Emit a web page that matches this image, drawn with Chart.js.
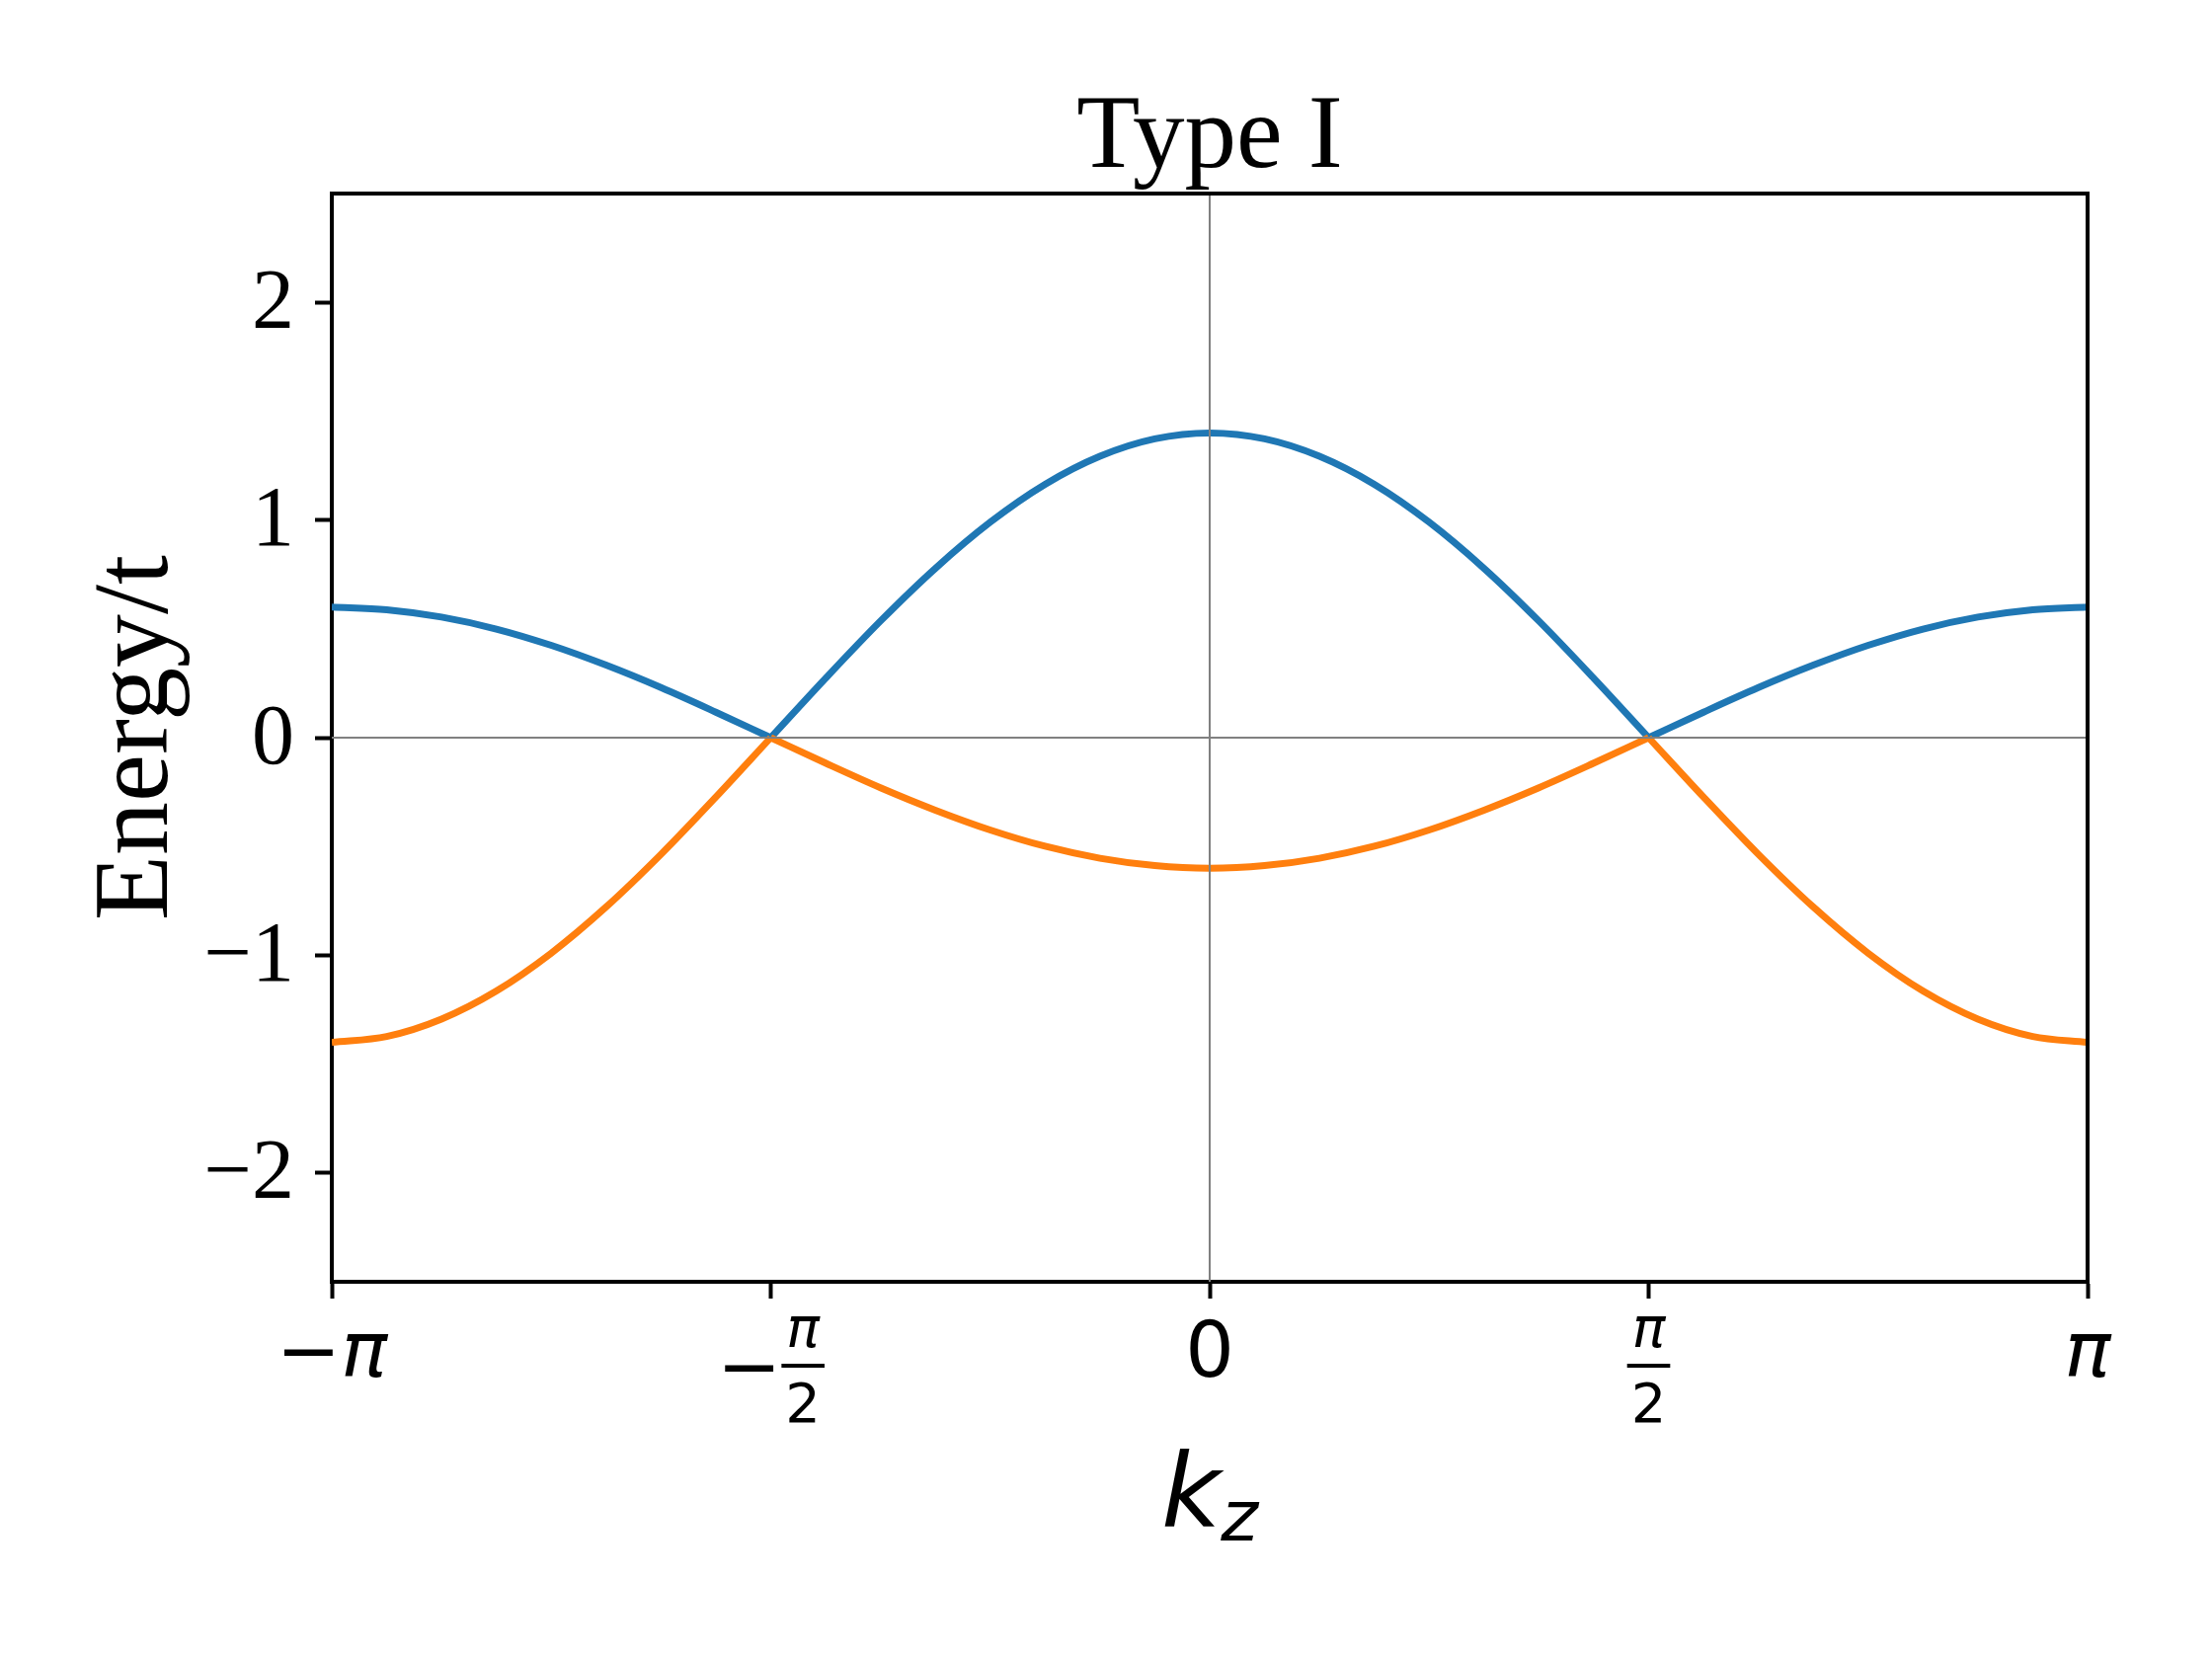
<!DOCTYPE html>
<html>
<head>
<meta charset="utf-8">
<script src="https://cdn.jsdelivr.net/npm/chart.js@4"></script>
<style>
    html, body { margin: 0; padding: 0; background: #fff; }
    #wrap { width: 2240px; height: 1680px; }
</style>
</head>
<body>
<div id="wrap"><canvas id="band-chart" width="2240" height="1680"></canvas></div>
<script>
// k_z in units of pi, sampled every pi/16
const kzOverPi = [
    -1, -0.9375, -0.875, -0.8125, -0.75, -0.6875, -0.625, -0.5625,
    -0.5, -0.4375, -0.375, -0.3125, -0.25, -0.1875, -0.125, -0.0625,
    0, 0.0625, 0.125, 0.1875, 0.25, 0.3125, 0.375, 0.4375,
    0.5, 0.5625, 0.625, 0.6875, 0.75, 0.8125, 0.875, 0.9375, 1
];

// Energy/t
const upperBand = [
    0.600, 0.588, 0.554, 0.499, 0.424, 0.333, 0.230, 0.117,
    0.000, 0.273, 0.536, 0.778, 0.990, 1.164, 1.293, 1.373,
    1.400, 1.373, 1.293, 1.164, 0.990, 0.778, 0.536, 0.273,
    0.000, 0.117, 0.230, 0.333, 0.424, 0.499, 0.554, 0.588, 0.600
];
const lowerBand = [
    -1.400, -1.373, -1.293, -1.164, -0.990, -0.778, -0.536, -0.273,
    0.000, -0.117, -0.230, -0.333, -0.424, -0.499, -0.554, -0.588,
    -0.600, -0.588, -0.554, -0.499, -0.424, -0.333, -0.230, -0.117,
    0.000, -0.273, -0.536, -0.778, -0.990, -1.164, -1.293, -1.373, -1.400
];

// the bands touch at -pi/2 and pi/2 (sample indices), curves are split there
const crossingIndex = [8, 24];

const xTicks = [-1, -0.5, 0, 0.5, 1];
const xTickLabels = ['−π', '−π/2', '0', 'π/2', 'π'];
const yTicks = [-2, -1, 0, 1, 2];
const yTickLabels = ['−2', '−1', '0', '1', '2'];

const chartTitle = 'Type I';
const yTitle = 'Energy/t';

const blue = '#1f77b4';
const orange = '#ff7f0e';
const serif = '"Liberation Serif", "Times New Roman", serif';
const sans = '"DejaVu Sans", sans-serif';

function bandSegments(values, color, order) {
    const cuts = [0, ...crossingIndex, kzOverPi.length - 1];
    const out = [];
    for (let s = 0; s < cuts.length - 1; s++) {
        const a = cuts[s], b = cuts[s + 1];
        out.push({
            data: kzOverPi.slice(a, b + 1).map((k, i) => ({ x: k, y: values[a + i] })),
            borderColor: color,
            borderWidth: 7,
            pointRadius: 0,
            fill: false,
            cubicInterpolationMode: 'monotone',
            order: order
        });
    }
    return out;
}

function drawXTickLabel(ctx, label, x) {
    const baseline = 1394;
    let sign = '';
    if (label.startsWith('−')) {
        sign = '−';
        label = label.slice(1);
    }
    ctx.fillStyle = '#000';
    ctx.textBaseline = 'alphabetic';
    ctx.textAlign = 'left';
    if (label.includes('/')) {
        const [num, den] = label.split('/');
        ctx.font = 'italic 56px ' + sans;
        const numW = ctx.measureText(num).width;
        ctx.font = '56px ' + sans;
        const denW = ctx.measureText(den).width;
        const barW = Math.max(numW, denW) + 8;
        ctx.font = '78px ' + sans;
        const signW = sign ? ctx.measureText(sign).width : 0;
        const start = x - (signW + barW) / 2;
        const barY = 1383;
        if (sign) ctx.fillText(sign, start, barY + 27);
        const fx = start + signW;
        ctx.font = 'italic 56px ' + sans;
        ctx.fillText(num, fx + (barW - numW) / 2, 1364);
        ctx.fillRect(fx, barY - 2, barW, 4);
        ctx.font = '56px ' + sans;
        ctx.fillText(den, fx + (barW - denW) / 2, 1440);
    } else {
        const isNumber = /^[0-9]+$/.test(label);
        ctx.font = '78px ' + sans;
        const signW = sign ? ctx.measureText(sign).width : 0;
        ctx.font = (isNumber ? '' : 'italic ') + '78px ' + sans;
        const w = ctx.measureText(label).width;
        const start = x - (signW + w) / 2;
        if (sign) {
            ctx.font = '78px ' + sans;
            ctx.fillText(sign, start, baseline);
        }
        ctx.font = (isNumber ? '' : 'italic ') + '78px ' + sans;
        ctx.fillText(label, start + signW, baseline);
    }
}

const framePlugin = {
    id: 'frame',
    afterDatasetsDraw(chart) {
        const { ctx, chartArea, scales } = chart;
        const x0 = scales.x.getPixelForValue(0);
        const y0 = scales.y.getPixelForValue(0);
        ctx.save();
        // zero lines on top of the bands
        ctx.strokeStyle = '#808080';
        ctx.lineWidth = 2;
        ctx.beginPath();
        ctx.moveTo(chartArea.left, y0);
        ctx.lineTo(chartArea.right, y0);
        ctx.moveTo(x0, chartArea.top);
        ctx.lineTo(x0, chartArea.bottom);
        ctx.stroke();
        // top and right spines
        ctx.strokeStyle = '#000';
        ctx.lineWidth = 4;
        ctx.beginPath();
        ctx.moveTo(chartArea.left - 2, chartArea.top);
        ctx.lineTo(chartArea.right, chartArea.top);
        ctx.lineTo(chartArea.right, chartArea.bottom + 2);
        ctx.stroke();
        ctx.restore();
    },
    afterDraw(chart) {
        const { ctx, chartArea, scales } = chart;
        ctx.save();
        ctx.fillStyle = '#000';

        // title
        ctx.font = '105px ' + serif;
        ctx.textAlign = 'center';
        ctx.textBaseline = 'alphabetic';
        ctx.fillText(chartTitle, (chartArea.left + chartArea.right) / 2, 169);

        // y tick labels
        ctx.font = '86px ' + serif;
        ctx.textAlign = 'right';
        ctx.textBaseline = 'middle';
        yTicks.forEach((v, i) => {
            ctx.fillText(yTickLabels[i], chartArea.left - 38, scales.y.getPixelForValue(v) + 3);
        });

        // y title
        ctx.save();
        ctx.translate(169, (chartArea.top + chartArea.bottom) / 2);
        ctx.rotate(-Math.PI / 2);
        ctx.font = '108px ' + serif;
        ctx.textAlign = 'center';
        ctx.textBaseline = 'alphabetic';
        ctx.fillText(yTitle, 0, 0);
        ctx.restore();

        // x tick labels
        xTicks.forEach((v, i) => drawXTickLabel(ctx, xTickLabels[i], scales.x.getPixelForValue(v)));

        // x title: k with subscript z
        ctx.textAlign = 'left';
        ctx.textBaseline = 'alphabetic';
        ctx.font = 'italic 104px ' + sans;
        const kW = ctx.measureText('k').width;
        ctx.font = 'italic 72px ' + sans;
        const zW = ctx.measureText('z').width;
        const start = (chartArea.left + chartArea.right) / 2 - (kW + zW) / 2;
        ctx.font = 'italic 104px ' + sans;
        ctx.fillText('k', start, 1546);
        ctx.font = 'italic 72px ' + sans;
        ctx.fillText('z', start + kW, 1560);
        ctx.restore();
    }
};

const datasets = [
    ...bandSegments(upperBand, blue, 1),
    ...bandSegments(lowerBand, orange, 0)
];

const axisGrid = {
    color: 'transparent',
    drawTicks: true,
    tickLength: 17,
    tickWidth: 4,
    tickColor: '#000'
};

const chart = new Chart(document.getElementById('band-chart').getContext('2d'), {
    type: 'line',
    data: { datasets: datasets },
    options: {
        responsive: false,
        animation: false,
        events: [],
        layout: { padding: { left: 319, right: 126, top: 196, bottom: 365 } },
        scales: {
            x: {
                type: 'linear',
                min: -1,
                max: 1,
                afterBuildTicks: axis => { axis.ticks = xTicks.map(v => ({ value: v })); },
                grid: axisGrid,
                border: { display: true, color: '#000', width: 4 },
                ticks: { display: false }
            },
            y: {
                type: 'linear',
                min: -2.5,
                max: 2.5,
                afterBuildTicks: axis => { axis.ticks = yTicks.map(v => ({ value: v })); },
                grid: axisGrid,
                border: { display: true, color: '#000', width: 4 },
                ticks: { display: false }
            }
        },
        plugins: {
            legend: { display: false },
            tooltip: { enabled: false },
            title: { display: false }
        }
    },
    plugins: [framePlugin]
});
</script>
</body>
</html>
